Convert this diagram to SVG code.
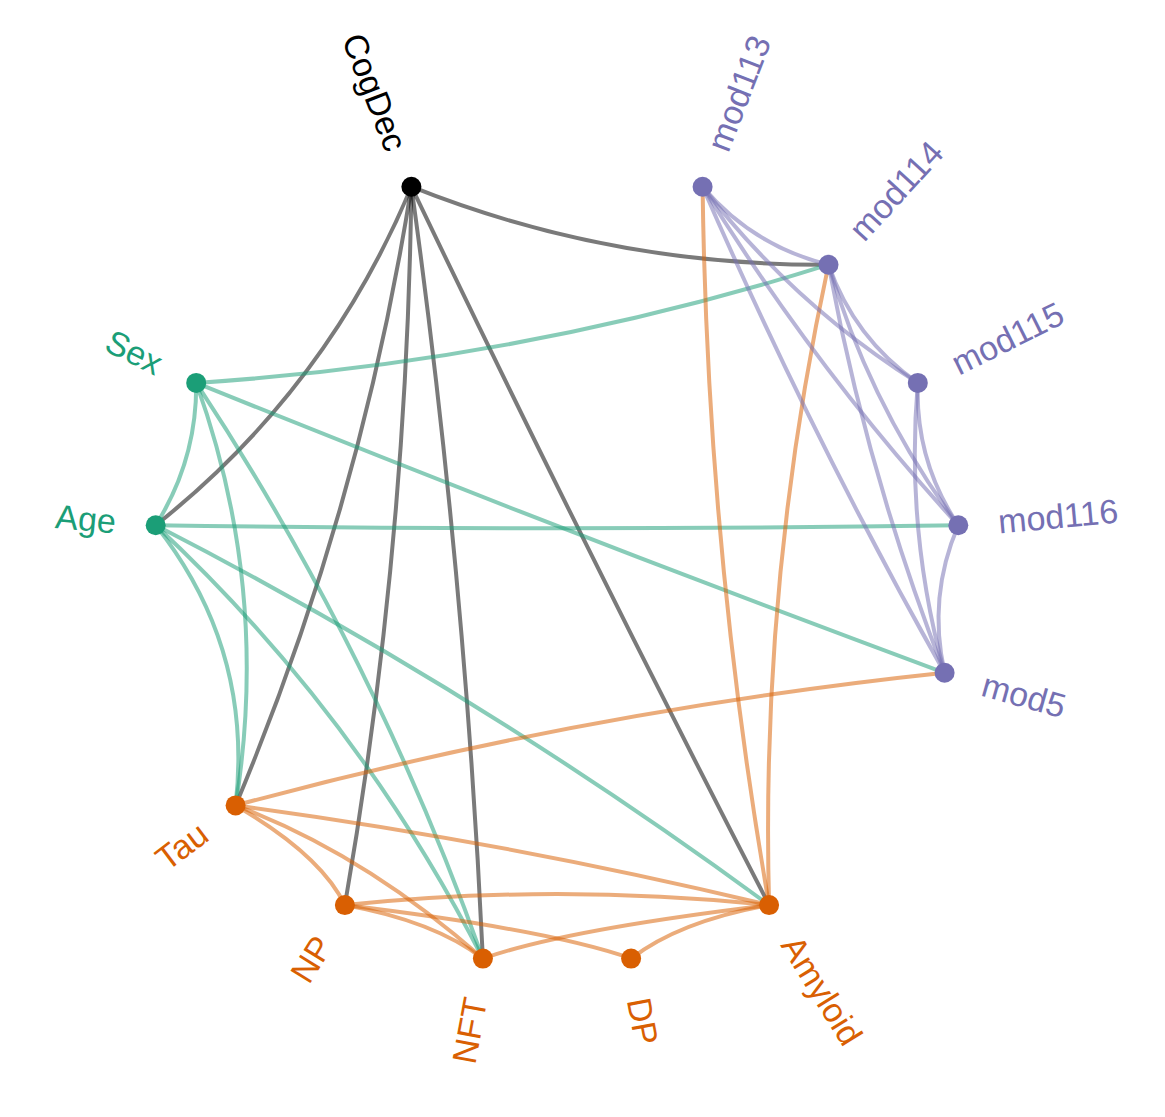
<svg xmlns="http://www.w3.org/2000/svg" width="1165" height="1117" viewBox="0 0 1165 1117">
<style>
.e{fill:none;stroke-width:4;stroke-opacity:0.52;stroke-linecap:round}
.k{stroke:#000}.g{stroke:#1b9e77}.o{stroke:#d95f02}.p{stroke:#7570b3}
text{font-family:"Liberation Sans",Arial,sans-serif;font-size:34px}
.tk{fill:#000}.tg{fill:#1b9e77}.to{fill:#d95f02}.tp{fill:#7570b3}
</style>
<rect width="1165" height="1117" fill="#fff"/>
<g id="edges">
<path class="e k" d="M411.4,186.7 Q610,266 828.5,264.7"/>
<path class="e k" d="M411.4,186.7 Q327.3,389.0 155.7,525.3"/>
<path class="e k" d="M411.4,186.7 Q360.9,506.7 235.6,805.4"/>
<path class="e k" d="M411.4,186.7 Q406.8,548.6 344.9,905.1"/>
<path class="e k" d="M411.4,186.7 Q464.7,571.0 482.9,958.6"/>
<path class="e k" d="M411.4,186.7 Q584.9,548.6 769.1,905.1"/>
<path class="e g" d="M196.2,382.9 Q519.5,362.0 828.5,264.7"/>
<path class="e g" d="M196.2,382.9 Q568.3,533.4 944.6,672.8"/>
<path class="e g" d="M196.2,382.9 Q197,460 155.7,525.3"/>
<path class="e g" d="M196.2,382.9 Q270.5,589.1 235.6,805.4"/>
<path class="e g" d="M196.2,382.9 Q374.3,653.4 482.9,958.6"/>
<path class="e g" d="M155.7,525.3 Q557,531.3 958.3,525.3"/>
<path class="e g" d="M155.7,525.3 Q253.5,648.9 235.6,805.4"/>
<path class="e g" d="M155.7,525.3 Q357.3,713.2 482.9,958.6"/>
<path class="e g" d="M155.7,525.3 Q477.5,690.8 769.1,905.1"/>
<path class="e o" d="M702.6,186.7 Q707.2,548.6 769.1,905.1"/>
<path class="e o" d="M828.5,264.7 Q760.1,581.3 769.1,905.1"/>
<path class="e o" d="M944.6,672.8 Q584.8,710.8 235.6,805.4"/>
<path class="e o" d="M235.6,805.4 Q504.9,841.5 769.1,905.1"/>
<path class="e o" d="M235.6,805.4 Q321,855 344.9,905.1"/>
<path class="e o" d="M235.6,805.4 Q364.8,854 482.9,958.6"/>
<path class="e o" d="M344.9,905.1 Q557,883 769.1,905.1"/>
<path class="e o" d="M344.9,905.1 Q434,921 482.9,958.6"/>
<path class="e o" d="M344.9,905.1 Q551,930 631.1,958.6"/>
<path class="e o" d="M482.9,958.6 Q563,930 769.1,905.1"/>
<path class="e o" d="M631.1,958.6 Q680,921 769.1,905.1"/>
<path class="e p" d="M702.6,186.7 Q752.9,246.1 828.5,264.7"/>
<path class="e p" d="M828.5,264.7 Q854.0,338.3 917.8,382.9"/>
<path class="e p" d="M917.8,382.9 Q915.0,460.7 958.3,525.3"/>
<path class="e p" d="M958.3,525.3 Q927.5,596.8 944.6,672.8"/>
<path class="e p" d="M702.6,186.7 Q792.7,304.0 917.8,382.9"/>
<path class="e p" d="M828.5,264.7 Q870.1,406.6 958.3,525.3"/>
<path class="e p" d="M917.8,382.9 Q905.3,530.3 944.6,672.8"/>
<path class="e p" d="M702.6,186.7 Q814.5,368.1 958.3,525.3"/>
<path class="e p" d="M828.5,264.7 Q867.3,474.3 944.6,672.8"/>
<path class="e p" d="M702.6,186.7 Q811.1,436.0 944.6,672.8"/>
</g>
<g id="node-CogDec"><circle cx="411.4" cy="186.7" r="10" fill="#000"/><text class="tk" text-anchor="end" dy="0.35em" transform="translate(396.9,149.4) rotate(68.82)">CogDec</text></g>
<g id="node-mod113"><circle cx="702.6" cy="186.7" r="10" fill="#7570b3"/><text class="tp" dy="0.35em" transform="translate(717.1,149.4) rotate(-68.82)">mod113</text></g>
<g id="node-mod114"><circle cx="828.5" cy="264.7" r="10" fill="#7570b3"/><text class="tp" dy="0.35em" transform="translate(855.5,235.1) rotate(-47.65)">mod114</text></g>
<g id="node-mod115"><circle cx="917.8" cy="382.9" r="10" fill="#7570b3"/><text class="tp" dy="0.35em" transform="translate(953.6,365.1) rotate(-26.47)">mod115</text></g>
<g id="node-mod116"><circle cx="958.3" cy="525.3" r="10" fill="#7570b3"/><text class="tp" dy="0.35em" transform="translate(998.1,521.7) rotate(-5.29)">mod116</text></g>
<g id="node-mod5"><circle cx="944.6" cy="672.8" r="10" fill="#7570b3"/><text class="tp" dy="0.35em" transform="translate(983.1,683.7) rotate(15.88)">mod5</text></g>
<g id="node-Amyloid"><circle cx="769.1" cy="905.1" r="10" fill="#d95f02"/><text class="to" dy="0.35em" transform="translate(790.2,939.1) rotate(58.24)">Amyloid</text></g>
<g id="node-DP"><circle cx="631.1" cy="958.6" r="10" fill="#d95f02"/><text class="to" dy="0.35em" transform="translate(638.4,998.0) rotate(79.41)">DP</text></g>
<g id="node-NFT"><circle cx="482.9" cy="958.6" r="10" fill="#d95f02"/><text class="to" text-anchor="end" dy="0.35em" transform="translate(475.6,998.0) rotate(-79.41)">NFT</text></g>
<g id="node-NP"><circle cx="344.9" cy="905.1" r="10" fill="#d95f02"/><text class="to" text-anchor="end" dy="0.35em" transform="translate(323.8,939.1) rotate(-58.24)">NP</text></g>
<g id="node-Tau"><circle cx="235.6" cy="805.4" r="10" fill="#d95f02"/><text class="to" text-anchor="end" dy="0.35em" transform="translate(203.7,829.5) rotate(-37.06)">Tau</text></g>
<g id="node-Age"><circle cx="155.7" cy="525.3" r="10" fill="#1b9e77"/><text class="tg" text-anchor="end" dy="0.35em" transform="translate(115.9,521.7) rotate(5.29)">Age</text></g>
<g id="node-Sex"><circle cx="196.2" cy="382.9" r="10" fill="#1b9e77"/><text class="tg" text-anchor="end" dy="0.35em" transform="translate(160.4,365.1) rotate(26.47)">Sex</text></g>
</svg>
